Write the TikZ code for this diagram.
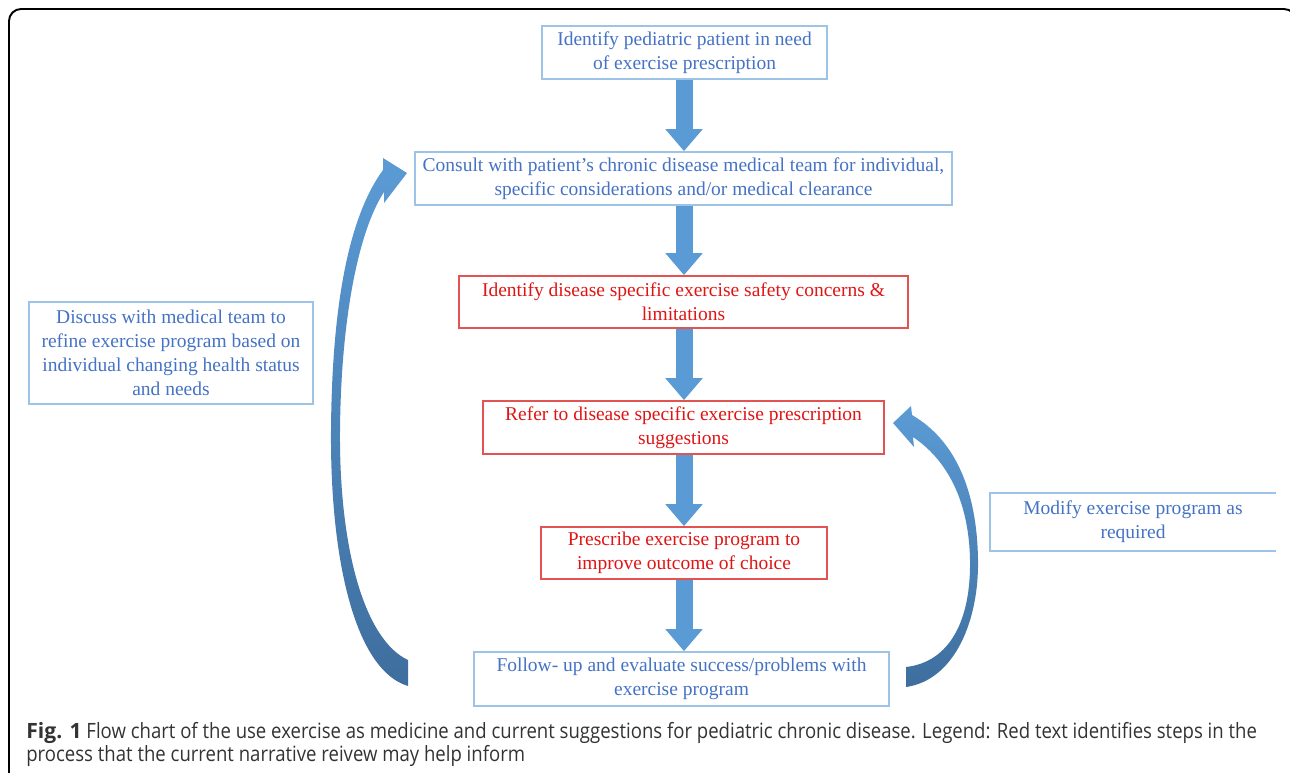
\documentclass[tikz,border=0pt]{standalone}
\usepackage{fontspec}
\setmainfont{Liberation Serif}
\setsansfont[FakeStretch=0.88, BoldFeatures={FakeStretch=1.0}]{Open Sans}
\usetikzlibrary{arrows.meta}
\definecolor{boxblue}{RGB}{157,195,230}
\definecolor{textblue}{RGB}{68,114,196}
\definecolor{boxred}{RGB}{226,84,84}
\definecolor{textred}{RGB}{224,20,20}
\definecolor{arrowblue}{RGB}{91,155,213}
\definecolor{arrowdark}{RGB}{62,110,158}
\definecolor{capgray}{RGB}{51,51,51}
\tikzset{
    flowbox/.style={draw, line width=1pt, align=center, inner sep=0pt,
        font=\fontsize{11.1}{13.7}\selectfont},
    bluebox/.style={flowbox, draw=boxblue, text=textblue},
    redbox/.style={flowbox, draw=boxred, text=textred},
    blockarrow/.style={draw=arrowblue, line width=0.34cm,
        -{Triangle[width=0.72cm, length=0.44cm]}},
    bendarrow/.style={top color=arrowblue, bottom color=arrowdark},
    captext/.style={anchor=base west, inner sep=0pt, text=capgray,
        font=\sffamily\fontsize{12}{14}\selectfont}
}
\begin{document}
\begin{tikzpicture}[x=0.02cm, y=-0.02cm]
    \useasboundingbox (0,0) rectangle (1290,772);
    \draw[line width=1.1pt, rounded corners=0.24cm] (9,790) -- (9,9) -- (1296,9) -- (1296,790);

    % main chain
    \node[bluebox, minimum width=5.7cm, minimum height=1.06cm] (identify) at (684.5,52.5)
        {Identify pediatric patient in need\\of exercise prescription};
    \node[bluebox, minimum width=10.74cm, minimum height=1.06cm] (consult) at (683.5,178.5)
        {Consult with patient's chronic disease medical team for individual,\\specific considerations and/or medical clearance};
    \node[redbox, minimum width=8.98cm, minimum height=1.04cm] (concerns) at (683.5,302)
        {Identify disease specific exercise safety concerns \&\\limitations};
    \node[redbox, minimum width=8.02cm, minimum height=1.06cm] (refer) at (683.5,427.5)
        {Refer to disease specific exercise prescription\\suggestions};
    \node[redbox, minimum width=5.72cm, minimum height=1.04cm] (prescribe) at (684,553)
        {Prescribe exercise program to\\improve outcome of choice};
    \node[bluebox, minimum width=8.3cm, minimum height=1.08cm] (followup) at (681.5,679)
        {Follow- up and evaluate success/problems with\\exercise program};

    % side notes
    \node[bluebox, minimum width=5.68cm, minimum height=2.04cm] (discuss) at (171,353)
        {Discuss with medical team to\\refine exercise program based on\\individual changing health status\\and needs};
    \node[bluebox, draw=none, minimum width=5.68cm, minimum height=1.12cm] (modify) at (1133,522)
        {Modify exercise program as\\required};
    \draw[boxblue, line width=1pt] (modify.north east) -- (modify.north west) -- (modify.south west) -- (modify.south east);

    \draw[blockarrow] (identify.south -| 684,0) -- (consult.north -| 684,0);
    \draw[blockarrow] (consult.south -| 684,0) -- (concerns.north -| 684,0);
    \draw[blockarrow] (concerns.south -| 684,0) -- (refer.north -| 684,0);
    \draw[blockarrow] (refer.south -| 684,0) -- (prescribe.north -| 684,0);
    \draw[blockarrow] (prescribe.south -| 684,0) -- (followup.north -| 684,0);

    % loop back arrows
    \shade[bendarrow] (408,686) .. controls (355,670) and (330,560) .. (331,430)
        .. controls (332,300) and (350,215) .. (383,170)
        -- (383,158) -- (407,173) -- (384,203) -- (384,192)
        .. controls (358,232) and (341,320) .. (340,430)
        .. controls (339,550) and (365,640) .. (408,660) -- cycle;
    \shade[bendarrow] (906,687) .. controls (955,680) and (979,620) .. (978,560)
        .. controls (977,490) and (955,440) .. (912,415)
        -- (911,406) -- (893,423) -- (914,447) -- (913,437)
        .. controls (950,462) and (969,505) .. (970,560)
        .. controls (971,620) and (950,662) .. (906,667) -- cycle;

    \node[captext] (cap1) at (26,738) {\textbf{Fig. 1} Flow chart of the use exercise as medicine and current suggestions for pediatric chronic disease. Legend: Red text identifies steps in the};
    \node[captext] (cap2) at (26,761) {process that the current narrative reivew may help inform};
\end{tikzpicture}
\end{document}
